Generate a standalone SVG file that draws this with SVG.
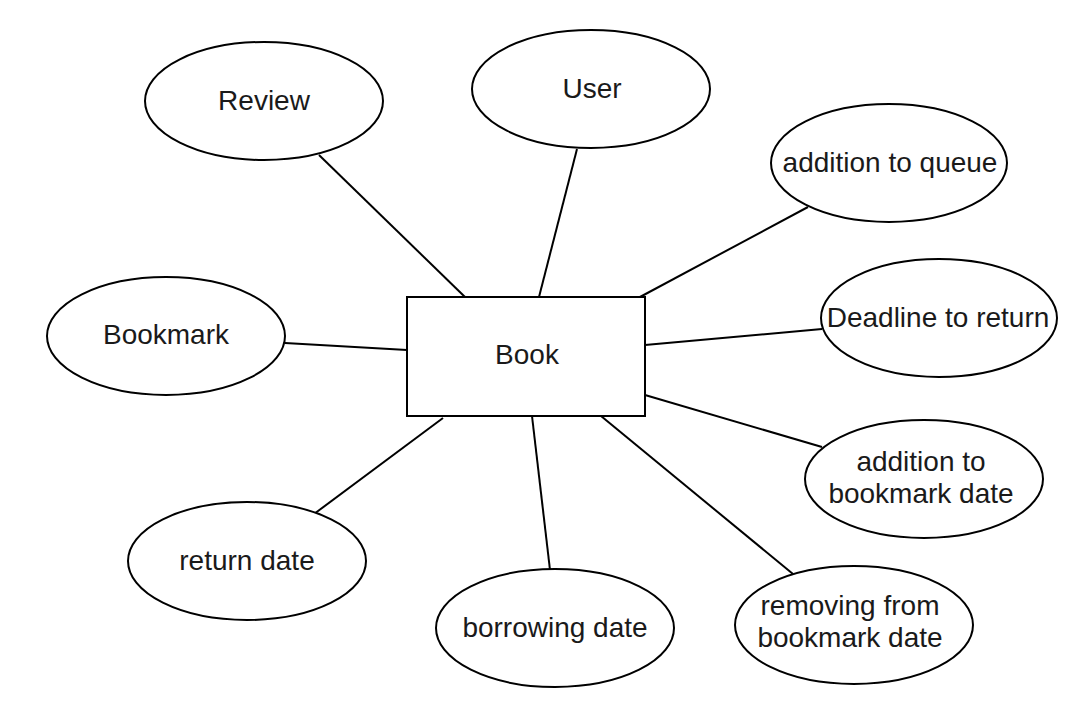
<svg xmlns="http://www.w3.org/2000/svg" width="1084" height="713" viewBox="0 0 1084 713">
<style>
.n ellipse,.n rect{fill:#fff;stroke:#000;stroke-width:2}
.n text{font-family:"Liberation Sans",Arial,sans-serif;font-size:28px;fill:#1a1a1a;text-anchor:middle}
.c line{stroke:#000;stroke-width:2}
</style>
<rect width="1084" height="713" fill="#fff"/>
<g id="connectors" class="c">
<line x1="319" y1="155" x2="465" y2="297"/>
<line x1="577" y1="149" x2="539" y2="297"/>
<line x1="808" y1="207" x2="640" y2="297"/>
<line x1="822" y1="329" x2="645" y2="345"/>
<line x1="285" y1="343" x2="407" y2="350"/>
<line x1="822" y1="447" x2="645" y2="395"/>
<line x1="314" y1="514" x2="443" y2="418"/>
<line x1="532" y1="416" x2="550" y2="570"/>
<line x1="601" y1="416" x2="793" y2="574"/>
</g>
<g id="book" class="n"><rect x="407" y="297" width="238" height="119"/><text x="527" y="364">Book</text></g>
<g id="review" class="n"><ellipse cx="264" cy="101" rx="119" ry="59"/><text x="264" y="110">Review</text></g>
<g id="user" class="n"><ellipse cx="591" cy="89" rx="119" ry="59"/><text x="592" y="98">User</text></g>
<g id="queue" class="n"><ellipse cx="889" cy="163" rx="118" ry="59"/><text x="890" y="172">addition to queue</text></g>
<g id="deadline" class="n"><ellipse cx="939" cy="318" rx="118" ry="59"/><text x="938" y="327">Deadline to return</text></g>
<g id="bookmark" class="n"><ellipse cx="166" cy="336" rx="119" ry="59"/><text x="166" y="344">Bookmark</text></g>
<g id="addbm" class="n"><ellipse cx="924" cy="479" rx="119" ry="59"/><text x="921" y="471">addition to</text><text x="921" y="503">bookmark date</text></g>
<g id="returndate" class="n"><ellipse cx="247" cy="561" rx="119" ry="59"/><text x="247" y="570">return date</text></g>
<g id="borrow" class="n"><ellipse cx="555" cy="628" rx="119" ry="59"/><text x="555" y="637">borrowing date</text></g>
<g id="removebm" class="n"><ellipse cx="854" cy="625" rx="119" ry="59"/><text x="850" y="615">removing from</text><text x="850" y="647">bookmark date</text></g>
</svg>
